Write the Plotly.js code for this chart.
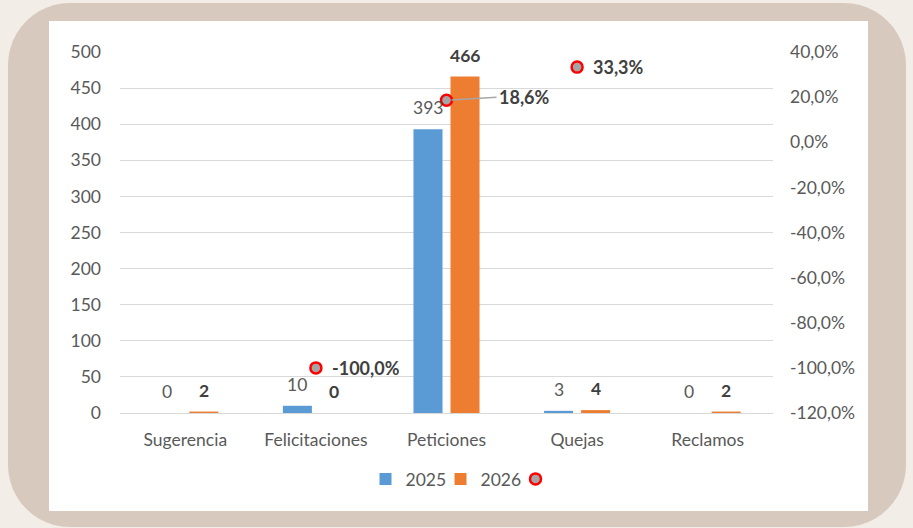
<!DOCTYPE html>
<html><head><meta charset="utf-8">
<script src="https://cdn.plot.ly/plotly-3.0.1.min.js"></script>
<style>html,body{margin:0;padding:0;background:#f2eee7;}#c{width:913px;height:528px;}</style>
</head><body><div id="c"></div>
<script>
const categories = ["Sugerencia","Felicitaciones","Peticiones","Quejas","Reclamos"];
const values2025 = [0, 10, 393, 3, 0];
const values2026 = [2, 0, 466, 4, 2];
const variation = [null, -1.0, 0.186, 0.333, null];
const variationLabels = [null, "-100,0%", "18,6%", "33,3%", null];
const pctTickVals = [-1.2, -1.0, -0.8, -0.6, -0.4, -0.2, 0, 0.2, 0.4];
const pctTickText = ["-120,0%","-100,0%","-80,0%","-60,0%","-40,0%","-20,0%","0,0%","20,0%","40,0%"];

const W = 913, H = 528, M = {l:120, r:140, t:52, b:115};
const pw = W - M.l - M.r, ph = H - M.t - M.b;
const px = v => (v - M.l) / pw;
const py = v => (H - M.b - v) / ph;
function roundedPath(x0,y0,x1,y1,r){
  const steps = 12, p = [];
  const corner = (cx,cy,a0) => { for(let i=0;i<=steps;i++){const a=a0+Math.PI/2*i/steps;p.push([cx+r*Math.cos(a),cy+r*Math.sin(a)]);} };
  corner(x0+r,y0+r,Math.PI);
  corner(x1-r,y0+r,1.5*Math.PI);
  corner(x1-r,y1-r,0);
  corner(x0+r,y1-r,0.5*Math.PI);
  return 'M' + p.map(q=>px(q[0]).toFixed(5)+','+py(q[1]).toFixed(5)).join(' L') + ' Z';
}

const font = "Lato, 'Open Sans', sans-serif";
const FS = 17.5;
const traces = [
  {type:'bar', name:'2025', x:categories, y:values2025, marker:{color:'#5b9bd5'}, hoverinfo:'skip'},
  {type:'bar', name:'2026', x:categories, y:values2026, marker:{color:'#ed7d31'}, hoverinfo:'skip'},
  {type:'scatter', mode:'markers', name:' ', x:categories, y:variation, yaxis:'y2',
   marker:{size:11, color:'#a5a5a5', line:{color:'#ff0000', width:2.5}}, cliponaxis:false, hoverinfo:'skip'}
];

const barHalf = 18.5; // pixel offset of each bar centre from its category centre
const annotations = [];
categories.forEach((c,i)=>{
  annotations.push({x:c, y:values2025[i], xref:'x', yref:'y', text:String(values2025[i]),
    font:{family:font, size:FS, color:'#595959'}, showarrow:false, xanchor:'center', yanchor:'bottom',
    xshift:-barHalf, yshift:9});
  annotations.push({x:c, y:values2026[i], xref:'x', yref:'y', text:'<b>'+values2026[i]+'</b>',
    font:{family:font, size:FS, color:'#404040'}, showarrow:false, xanchor:'center', yanchor:'bottom',
    xshift:barHalf, yshift:9});
  if(variation[i]===null) return;
  const lead = variation[i] > 0 && variation[i] < 0.25;
  annotations.push({x:c, y:variation[i], xref:'x', yref:'y2', text:'<b>'+variationLabels[i]+'</b>',
    font:{family:font, size:18, color:'#404040'}, xanchor:'left', yanchor:'middle',
    showarrow: lead, arrowhead:0, arrowwidth:1.5, arrowcolor:'#a6a6a6',
    ax: lead ? 50 : 0, ay: lead ? -3 : 0, xshift: lead ? 0 : 14, standoff:5});
});

const layout = {
  width:W, height:H, margin:M,
  paper_bgcolor:'#f2eee7', plot_bgcolor:'rgba(0,0,0,0)',
  separators:',.',
  font:{family:font, size:FS, color:'#595959'},
  barmode:'group', bargap:0.433, bargroupgap:0.216,
  showlegend:true,
  legend:{orientation:'h', x:px(478), xanchor:'center', y:py(479), yanchor:'middle',
    entrywidth:30, entrywidthmode:'pixels',
    font:{family:font, size:FS, color:'#595959'}, bgcolor:'rgba(0,0,0,0)', traceorder:'normal'},
  xaxis:{type:'category', showgrid:false, zeroline:false, showline:false, ticks:'',
    tickfont:{family:font, size:FS, color:'#595959'}, ticklabelstandoff:14, fixedrange:true},
  yaxis:{range:[0,500], dtick:50, showgrid:true, gridcolor:'#d9d9d9', gridwidth:1,
    zeroline:true, zerolinecolor:'#d9d9d9', showline:false, ticks:'',
    tickfont:{family:font, size:FS, color:'#595959'}, ticklabelstandoff:18},
  yaxis2:{overlaying:'y', side:'right', range:[-1.2,0.4], tickmode:'array',
    tickvals:pctTickVals, ticktext:pctTickText,
    showgrid:false, zeroline:false, showline:false, ticks:'',
    tickfont:{family:font, size:FS, color:'#595959'}, ticklabelstandoff:16},
  shapes:[
    {type:'path', xref:'paper', yref:'paper', layer:'below', path:roundedPath(8,3,906,527,62),
     fillcolor:'#d8c9bf', line:{width:0}},
    {type:'rect', xref:'paper', yref:'paper', layer:'below', x0:px(49), x1:px(868), y0:py(511), y1:py(21),
     fillcolor:'#ffffff', line:{width:0}}
  ],
  annotations:annotations
};
Plotly.newPlot('c', traces, layout, {staticPlot:true, displayModeBar:false});
</script></body></html>
